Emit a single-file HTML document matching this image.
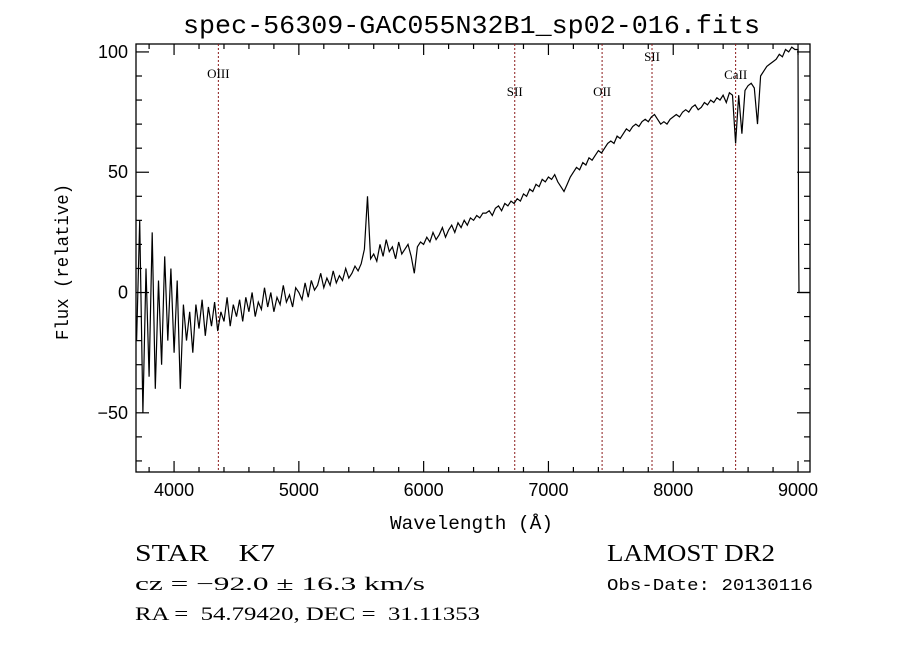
<!DOCTYPE html>
<html><head><meta charset="utf-8"><style>
body{margin:0;background:#fff;}
svg{display:block;}
.serif{font-family:"Liberation Serif",serif;}
.mono{font-family:"Liberation Mono",monospace;}
.sans{font-family:"Liberation Sans",sans-serif;}
</style></head><body>
<svg id="chart" width="900" height="649" xmlns="http://www.w3.org/2000/svg">
<rect width="900" height="649" fill="#fff"/>
<text x="183" y="33" class="mono" font-size="26" textLength="577" lengthAdjust="spacingAndGlyphs">spec-56309-GAC055N32B1_sp02-016.fits</text>
<g id="axes"></g>
<g id="lines"></g>
<path id="spec" fill="none" stroke="#000" stroke-width="1.2"/>
<text x="390" y="529" class="mono" font-size="19" textLength="163" lengthAdjust="spacingAndGlyphs">Wavelength (Å)</text>
<text transform="translate(68,262) rotate(-90)" text-anchor="middle" class="mono" font-size="18" textLength="156" lengthAdjust="spacingAndGlyphs">Flux (relative)</text>
<text x="135" y="561" class="serif" font-size="24" textLength="140" lengthAdjust="spacingAndGlyphs" xml:space="preserve">STAR    K7</text>
<text x="607" y="561" class="serif" font-size="24" textLength="168" lengthAdjust="spacingAndGlyphs">LAMOST DR2</text>
<text x="135" y="590" class="serif" font-size="19" textLength="290" lengthAdjust="spacingAndGlyphs">cz = −92.0 ± 16.3 km/s</text>
<text x="607" y="590" class="mono" font-size="17" textLength="206" lengthAdjust="spacingAndGlyphs">Obs-Date: 20130116</text>
<text x="135" y="620" class="serif" font-size="19" textLength="345" lengthAdjust="spacingAndGlyphs" xml:space="preserve">RA =  54.79420, DEC =  31.11353</text>
</svg>
<script>
const waveStart = 3700;
const waveStep = 25;
const flux = [-20,30,-50,10,-35,25,-40,5,-30,15,-20,10,
-25,5,-40,-5,-20,-8,-25,-5,-15,-3,-18,-6,-14,-4,-16,-8,-12,-2,-14,-5,
-10,-3,-12,-2,-8,0,-10,-4,-7,2,-6,0,-8,-2,-5,3,-4,-1,-6,2,
0,-3,4,-2,5,1,3,8,2,6,3,9,4,7,5,10,6,8,11,9,
12,18,40,14,16,13,20,15,22,17,19,14,21,16,18,20,15,8,19,21,
20,23,21,25,22,24,27,23,26,28,25,29,27,30,28,31,30,32,31,33,
33,34,32,35,36,34,37,36,38,37,39,38,41,40,43,42,45,44,47,46,
48,47,49,46,44,42,45,48,50,52,51,54,53,56,55,57,59,58,60,62,
63,62,65,64,66,68,67,69,70,69,71,72,71,73,74,72,70,71,70,72,
73,74,73,75,76,75,77,78,76,77,79,78,80,79,81,80,82,79,83,82,
62,82,66,84,86,87,85,70,90,92,94,95,96,97,99,98,101,100,102,101,
101];
const tailWave = [9005, 9008, 9096];
const tailFlux = [20, 0, 0];
const lineNames = ["OIII","SII","OII","SII","CaII"];
const lineWaves = [4355, 6730, 7430, 7830, 8500];
const lineLabelY = [78, 96, 96, 61, 79];
const xTicks = [4000,5000,6000,7000,8000,9000];
const yTicks = [-50,0,50,100];

const L=136,R=810,T=44,B=472;
const xMin=3695,xMax=9096,yMin=-74.6,yMax=103.3;
const X=w=>L+(w-xMin)/(xMax-xMin)*(R-L);
const Y=f=>B-(f-yMin)/(yMax-yMin)*(B-T);
const NS="http://www.w3.org/2000/svg";
function mk(tag,attrs,parent,text){const e=document.createElementNS(NS,tag);for(const k in attrs)e.setAttribute(k,attrs[k]);if(text!==undefined)e.textContent=text;parent.appendChild(e);return e;}
const ax=document.getElementById('axes');
const frame=mk('rect',{x:L,y:T,width:R-L,height:B-T,fill:'none',stroke:'#000','stroke-width':1.3},ax);


for(let w=3800;w<=9000;w+=200){const x=X(w);const maj=w%1000===0;const len=maj?11:5;
 mk('line',{x1:x,x2:x,y1:B,y2:B-len,stroke:'#000','stroke-width':1.2},ax);
 mk('line',{x1:x,x2:x,y1:T,y2:T+len,stroke:'#000','stroke-width':1.2},ax);}
xTicks.forEach(w=>{const t=mk('text',{x:X(w),y:B+24,'text-anchor':'middle','font-size':18,class:'sans'},ax,String(w));
 
 });
for(let f=-70;f<=100;f+=10){const y=Y(f);const maj=f%50===0;const len=maj?13:6;
 mk('line',{x1:L,x2:L+len,y1:y,y2:y,stroke:'#000','stroke-width':1.2},ax);
 mk('line',{x1:R,x2:R-len,y1:y,y2:y,stroke:'#000','stroke-width':1.2},ax);}
yTicks.forEach(f=>{const t=mk('text',{x:L-8,y:Y(f)+6,'text-anchor':'end','font-size':18,class:'sans'},ax,f<0?'−'+Math.abs(f):String(f));
 
 });
const lg=document.getElementById('lines');
lineWaves.forEach((w,i)=>{const x=X(w);
 const l=mk('line',{x1:x,x2:x,y1:T,y2:B,stroke:'#8b1a1a','stroke-width':1,'stroke-dasharray':'2,2'},lg);
 
 
 const t=mk('text',{x:x,y:lineLabelY[i],'text-anchor':'middle','font-size':13,class:'serif'},lg,lineNames[i]);
 
 });
let d='';
flux.forEach((f,i)=>{const w=waveStart+i*waveStep;d+=(i?'L':'M')+X(w).toFixed(1)+','+Y(f).toFixed(1);});
tailWave.forEach((w,i)=>{d+='L'+X(w).toFixed(1)+','+Y(tailFlux[i]).toFixed(1);});
document.getElementById('spec').setAttribute('d',d);
</script>
</body></html>
